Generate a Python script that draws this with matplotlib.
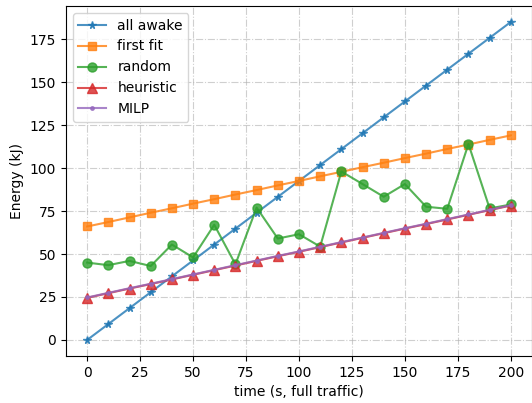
import matplotlib
matplotlib.use("Agg")
import matplotlib.pyplot as plt

time_s = [0, 10, 20, 30, 40, 50, 60, 70, 80, 90, 100, 110, 120, 130, 140, 150, 160, 170, 180, 190, 200]
all_awake = [0, 9.25, 18.5, 27.75, 37, 46.25, 55.5, 64.75, 74, 83.25, 92.5, 101.75, 111, 120.25,
             129.5, 138.75, 148, 157.25, 166.5, 175.75, 185]
first_fit = [66, 68.6, 71.3, 74, 76.6, 79.3, 81.9, 84.6, 87.2, 89.9, 92.5, 95.2, 97.8, 100.5,
             103.1, 105.8, 108.4, 111.1, 113.7, 116.4, 119]
random_ = [45, 43.5, 46, 43, 55.5, 48, 67, 44, 77, 59, 61.5, 54.3, 98, 90.7, 83.3, 90.7,
           77.5, 76.3, 114, 76.5, 78.8]
heuristic = [24.5, 27.2, 29.9, 32.5, 35.2, 37.9, 40.6, 43.3, 46, 48.7, 51.3, 54, 56.7, 59.4,
             62.1, 64.8, 67.4, 70.1, 72.8, 75.5, 78.2]
milp = [24.7, 27.4, 30.1, 32.7, 35.4, 38.1, 40.8, 43.5, 46.2, 48.9, 51.5, 54.2, 56.9, 59.6,
        62.3, 65, 67.6, 70.3, 73, 75.7, 78.4]

fig = plt.figure(figsize=(5.32, 4.03), dpi=100)
ax = fig.add_axes([0.124, 0.117, 0.876, 0.868])

ax.plot(time_s, all_awake, marker="*", markersize=5.5, alpha=0.8, label="all awake")
ax.plot(time_s, first_fit, marker="s", markersize=6, alpha=0.8, label="first fit")
ax.plot(time_s, random_, marker="o", markersize=6.5, alpha=0.8, label="random")
ax.plot(time_s, heuristic, marker="^", markersize=6.5, alpha=0.8, label="heuristic")
ax.plot(time_s, milp, marker=".", markersize=5, alpha=0.8, label="MILP")

ax.set_xlabel("time (s, full traffic)")
ax.set_ylabel("Energy (kJ)")
ax.grid(True, linestyle="-.", color="#b0b0b0", alpha=0.6)
ax.legend(loc="upper left")

fig.savefig("out.png")
